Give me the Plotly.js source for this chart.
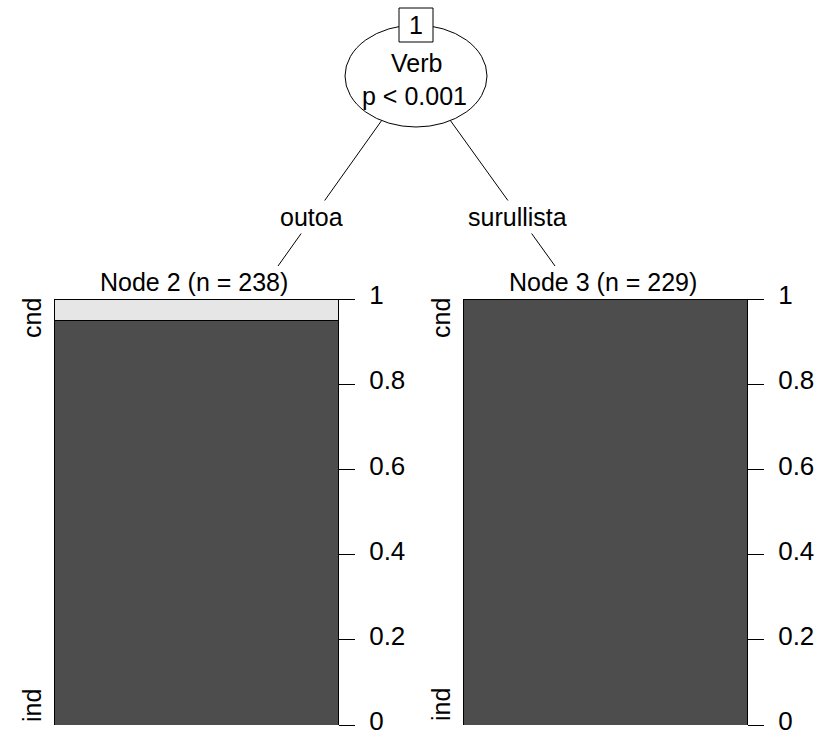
<!DOCTYPE html>
<html>
<head>
<meta charset="utf-8">
<script src="https://cdn.plot.ly/plotly-3.0.1.min.js"></script>
<style>html,body{margin:0;padding:0;background:#fff;}#chart{width:817px;height:738px;}</style>
</head>
<body>
<div id="chart"></div>
<script>
// Data
const classes = ['ind', 'cnd'];
const nodeTitles = ['Node 2 (n = 238)', 'Node 3 (n = 229)'];
const indShare = [0.95, 1.0];
const cndShare = [0.05, 0.0];
const splitVar = 'Verb';
const splitP = 'p < 0.001';
const rootId = '1';
const branchLabels = ['outoa', 'surullista'];
const yTickVals = [0, 0.2, 0.4, 0.6, 0.8, 1];
const yTickText = ['0', '0.2', '0.4', '0.6', '0.8', '1'];

const W = 817, H = 738;
const px = x => x / W;
const py = y => 1 - y / H;
const FONT = 'Liberation Sans, Arial, sans-serif';
const FS = 25;
const colors = {ind: '#4d4d4d', cnd: '#e6e6e6'};

const traces = [];
[0, 1].forEach(i => {
  const xa = i === 0 ? 'x' : 'x2';
  const ya = i === 0 ? 'y' : 'y2';
  traces.push({type: 'bar', x: [0], y: [indShare[i]], xaxis: xa, yaxis: ya, width: 1,
    marker: {color: colors.ind, line: {color: '#000', width: 1}}, hoverinfo: 'skip', showlegend: false, name: classes[0]});
  traces.push({type: 'bar', x: [0], y: [cndShare[i]], xaxis: xa, yaxis: ya, width: 1,
    marker: {color: colors.cnd, line: {color: '#000', width: 1}}, hoverinfo: 'skip', showlegend: false, name: classes[1]});
});

const panelX = [[54, 338], [463, 747]];
const yTop = 299, yBot = 725;

function yax(anchor) {
  return {domain: [py(yBot), py(yTop)], range: [0, 1], anchor: anchor, side: 'right',
    showline: true, linecolor: '#000', linewidth: 1, ticks: 'outside', ticklen: 16, tickwidth: 1, tickcolor: '#000',
    tickvals: yTickVals, ticktext: yTickText, tickfont: {family: FONT, size: 26, color: '#000'},
    ticklabelstandoff: 9, ticklabeloverflow: 'allow', ticklabelshift: -4,
    showgrid: false, zeroline: false, fixedrange: true};
}
function xax(i, anchor) {
  return {domain: [px(panelX[i][0]), px(panelX[i][1])], range: [-0.5, 0.5], anchor: anchor,
    visible: false, showgrid: false, zeroline: false, fixedrange: true};
}

const annotations = [];
[0, 1].forEach(i => {
  annotations.push({xref: 'paper', yref: 'paper', x: px((panelX[i][0] + panelX[i][1]) / 2 - 2), y: py(yTop - 1),
    xanchor: 'center', yanchor: 'bottom', text: nodeTitles[i], showarrow: false,
    font: {family: FONT, size: FS, color: '#000'}});
  annotations.push({xref: 'paper', yref: 'paper', x: px(panelX[i][0] - 22), y: py(318), textangle: -90,
    xanchor: 'center', yanchor: 'middle', text: classes[1], showarrow: false,
    font: {family: FONT, size: FS, color: '#000'}});
  annotations.push({xref: 'paper', yref: 'paper', x: px(panelX[i][0] - 22), y: py(705), textangle: -90,
    xanchor: 'center', yanchor: 'middle', text: classes[0], showarrow: false,
    font: {family: FONT, size: FS, color: '#000'}});
});
annotations.push({xref: 'paper', yref: 'paper', x: px(416), y: py(25), xanchor: 'center', yanchor: 'middle',
  text: rootId, showarrow: false, font: {family: FONT, size: FS, color: '#000'}});
annotations.push({xref: 'paper', yref: 'paper', x: px(416), y: py(63), xanchor: 'center', yanchor: 'middle',
  text: splitVar, showarrow: false, font: {family: FONT, size: FS, color: '#000'}});
annotations.push({xref: 'paper', yref: 'paper', x: px(414), y: py(96), xanchor: 'center', yanchor: 'middle',
  text: splitP, showarrow: false, font: {family: FONT, size: FS, color: '#000'}});
annotations.push({xref: 'paper', yref: 'paper', x: px(311), y: py(217), xanchor: 'center', yanchor: 'middle',
  text: branchLabels[0], showarrow: false, bgcolor: '#fff', borderpad: 2, font: {family: FONT, size: FS, color: '#000'}});
annotations.push({xref: 'paper', yref: 'paper', x: px(517), y: py(217), xanchor: 'center', yanchor: 'middle',
  text: branchLabels[1], showarrow: false, bgcolor: '#fff', borderpad: 2, font: {family: FONT, size: FS, color: '#000'}});

const shapes = [
  {type: 'line', xref: 'paper', yref: 'paper', x0: px(382), y0: py(120), x1: px(278), y1: py(266), line: {color: '#000', width: 1}},
  {type: 'line', xref: 'paper', yref: 'paper', x0: px(450), y0: py(120), x1: px(555), y1: py(266), line: {color: '#000', width: 1}},
  {type: 'circle', xref: 'paper', yref: 'paper', x0: px(345), x1: px(487), y0: py(25), y1: py(127), line: {color: '#000', width: 1}, fillcolor: '#fff'},
  {type: 'rect', xref: 'paper', yref: 'paper', x0: px(399), x1: px(433), y0: py(8), y1: py(42), line: {color: '#000', width: 1}, fillcolor: '#fff'}
];

const layout = {
  width: W, height: H, margin: {l: 0, r: 0, t: 0, b: 0},
  paper_bgcolor: '#fff', plot_bgcolor: 'rgba(0,0,0,0)',
  barmode: 'stack', bargap: 0, showlegend: false,
  xaxis: xax(0, 'y'), yaxis: yax('x'),
  xaxis2: xax(1, 'y2'), yaxis2: yax('x2'),
  annotations: annotations, shapes: shapes,
  font: {family: FONT, size: FS, color: '#000'}
};

Plotly.newPlot('chart', traces, layout, {displayModeBar: false, staticPlot: true});
</script>
</body>
</html>
